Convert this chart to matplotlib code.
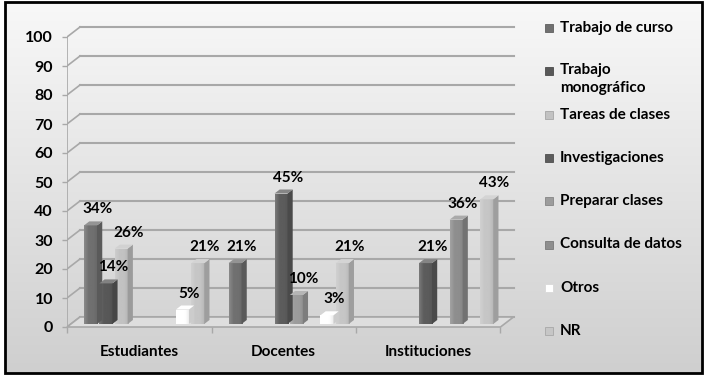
import numpy as np
import matplotlib.pyplot as plt
from matplotlib.patches import Polygon, Rectangle
from matplotlib.colors import LinearSegmentedColormap

plt.rcParams['font.family'] = ['Lato', 'DejaVu Sans']
plt.rcParams['font.weight'] = 'bold'

# dados do grafico (porcentagens, 0 = sem barra)
categorias = ['Estudiantes', 'Docentes', 'Instituciones']
series = ['Trabajo de curso', 'Trabajo\nmonográfico', 'Tareas de clases',
          'Investigaciones', 'Preparar clases', 'Consulta de datos', 'Otros', 'NR']
trabajo_curso = [34, 21, 0]
trabajo_monografico = [14, 0, 0]
tareas_clases = [26, 0, 0]
investigaciones = [0, 45, 21]
preparar_clases = [0, 10, 0]
consulta_datos = [0, 0, 36]
otros = [5, 3, 0]
nr = [21, 21, 43]
yticks = list(range(0, 101, 10))

valores = [trabajo_curso, trabajo_monografico, tareas_clases, investigaciones,
           preparar_clases, consulta_datos, otros, nr]
cores = ['#707070', '#585858', '#c2c2c2', '#5c5c5c',
         '#9c9c9c', '#8e8e8e', '#ffffff', '#c6c6c6']


def escurece(c, f):
    r, g, b = [int(c[k:k + 2], 16) / 255 for k in (1, 3, 5)]
    return (r * f, g * f, b * f)


def clareia(c, f):
    r, g, b = [int(c[k:k + 2], 16) / 255 for k in (1, 3, 5)]
    return (r + (1 - r) * f, g + (1 - g) * f, b + (1 - b) * f)


W, H = 708, 384
fig = plt.figure(figsize=(W / 100, H / 100), dpi=100)

# fundo em degrade + moldura
bg = fig.add_axes([0, 0, 1, 1], zorder=-10)
bg.set_xlim(0, W)
bg.set_ylim(H, 0)
bg.axis('off')
cmap_bg = LinearSegmentedColormap.from_list('bg', ['#f8f8f8', '#cfcfcf'])
bg.imshow(np.linspace(0, 1, 256).reshape(-1, 1), cmap=cmap_bg, aspect='auto',
          extent=[5, 702, 373, 2])
bg.add_patch(Rectangle((5, 2), 697, 371, fill=False, ec='black', lw=2))

# eixo principal: posicao em pixels da "parede" frontal
X0, XPASSO = 67, 144.5
Y0, YESC = 327, 2.9
xlim = (-0.5, 2.65)
ylim = (0, 104.5)
dir_px = X0 + (xlim[1] - xlim[0]) * XPASSO
top_px = Y0 - ylim[1] * YESC
ax = fig.add_axes([X0 / W, (H - Y0) / H, (dir_px - X0) / W, (Y0 - top_px) / H])
ax.patch.set_visible(False)
for s in ax.spines.values():
    s.set_visible(False)

dx = 13 / XPASSO
dy = 10 / YESC
cinza = '#a8a8a8'

# parede do fundo e lateral
for v in yticks:
    ax.plot([-0.5 + dx, 2.5 + dx], [v + dy, v + dy], color=cinza, lw=1.5, zorder=1)
    ax.plot([-0.5, -0.5 + dx], [v, v + dy], color=cinza, lw=1.2, zorder=1)
ax.plot([-0.5, -0.5], [0, 100], color=cinza, lw=1.2, zorder=1)
ax.add_patch(Polygon([(-0.5, 0), (2.5, 0), (2.5 + dx, dy), (-0.5 + dx, dy)],
                     closed=True, fc='#dedede', ec=cinza, lw=1.2, zorder=1, clip_on=False))

# barras 3D (frente com leve degrade horizontal)
f0, f1 = 0.3, 0.7
larg, passo, ini = 0.09, 0.106, -0.409
ddx, ddy = (f1 - f0) * dx, (f1 - f0) * dy
grad = np.linspace(0, 1, 32).reshape(1, -1)
for i in range(len(categorias)):
    for j, vals in enumerate(valores):
        v = vals[i]
        if v == 0:
            continue
        c = cores[j]
        x = i + ini + j * passo + f0 * dx
        y = f0 * dy
        frente = Rectangle((x, y), larg, v, fc=c, ec='none', zorder=3)
        ax.add_patch(frente)
        cm = LinearSegmentedColormap.from_list(
            'b', [clareia(c, 0.18), c, c, escurece(c, 0.92)])
        im = ax.imshow(grad, cmap=cm, aspect='auto', extent=[x, x + larg, y, y + v],
                       zorder=3.1, interpolation='bilinear')
        im.set_clip_path(frente)
        ax.add_patch(Polygon([(x + larg, y), (x + larg + ddx, y + ddy),
                              (x + larg + ddx, y + v + ddy), (x + larg, y + v)],
                             closed=True, fc=escurece(c, 0.8), ec='none', zorder=3.2))
        ax.add_patch(Polygon([(x, y + v), (x + larg, y + v),
                              (x + larg + ddx, y + v + ddy), (x + ddx, y + v + ddy)],
                             closed=True, fc=clareia(c, 0.25), ec='none', zorder=3.2))
        ax.annotate(f'{v}%', (x + larg / 2, y + v), xytext=(5, 11.5),
                    textcoords='offset points', ha='center', va='center',
                    fontsize=11, fontweight='bold', color='black', zorder=5)

ax.set_xlim(*xlim)
ax.set_ylim(*ylim)
ax.set_yticks(yticks)
ax.tick_params(axis='y', length=3.6, width=1, color=cinza, pad=6.5, labelsize=11.5)
ax.set_xticks(range(len(categorias)), categorias)
ax.tick_params(axis='x', which='major', length=0, pad=13, labelsize=11)
ax.set_xticks([-0.5, 0.5, 1.5, 2.5], minor=True)
ax.tick_params(axis='x', which='minor', length=4.3, width=1, color=cinza)

# legenda manual
for k, (nome, c) in enumerate(zip(series, cores)):
    yc = 28 + k * 43.3
    bg.add_patch(Rectangle((545, yc - 4), 8, 8, fc=c, ec=escurece(c, 0.85), lw=0.6))
    if '\n' in nome:
        bg.text(560, yc - 8.5, nome, ha='left', va='top', fontsize=11,
                fontweight='bold', linespacing=1.35)
    else:
        bg.text(560, yc, nome, ha='left', va='center', fontsize=11, fontweight='bold')

fig.savefig('out.png', dpi=100)
